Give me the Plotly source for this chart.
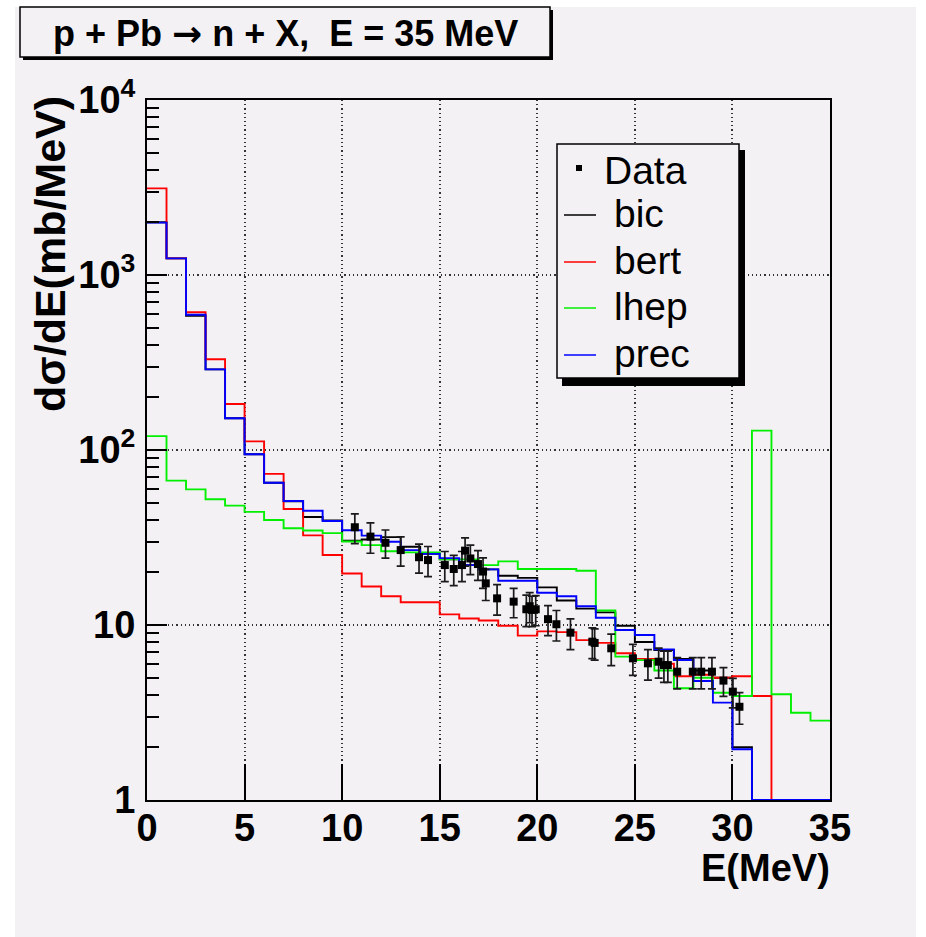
import plotly.graph_objects as go

# --- spectrum data: 1 MeV bins from 0 to 35 MeV -----------------------------
bin_edges = list(range(0, 36))

bic = [2000, 1245, 585, 289, 152, 94.5, 65, 51, 41.4, 39.6,
       30.3, 30.8, 31.8, 28.0, 25.5, 23.7, 22.0, 20.8, 19.1, 18.6,
       16.4, 13.8, 12.4, 11.8, 9.9, 8.0, 7.2, 6.4, 5.5, 5.0,
       2.0, 0, 0, 0, 0]

bert = [3126, 1245, 612, 330, 183, 112, 73, 46, 32.5, 25.1,
        19.7, 16.6, 14.6, 13.5, 13.5, 11.5, 10.9, 10.6, 9.9, 8.7,
        9.2, 9.1, 8.2, 7.9, 6.9, 6.4, 6.0, 5.1, 5.2, 5.0,
        5.1, 3.93, 0, 0, 0]

lhep = [120, 66.8, 59.6, 52.3, 48.1, 44.3, 39.8, 35.7, 34.7, 33.5,
        30.0, 28.6, 26.4, 26.0, 26.0, 23.7, 23.7, 22.0, 23.1, 20.9,
        20.9, 20.9, 20.4, 12.1, 6.6, 6.3, 5.5, 4.35, 5.0, 4.1,
        3.93, 129, 4.02, 3.15, 2.84]

prec = [1991, 1245, 593, 289, 152, 94.5, 65, 51.1, 45.0, 39.3,
        34.8, 32.4, 29.9, 26.8, 25.5, 24.1, 22.0, 20.8, 17.9, 17.9,
        15.3, 14.6, 12.8, 11.0, 9.36, 8.77, 7.26, 6.31, 4.79, 3.6,
        1.95, 0, 0, 0, 0]

# measured neutron spectrum
data_e = [10.65, 11.45, 12.22, 13.0, 13.94, 14.4, 15.26, 15.72, 16.14, 16.3,
          16.57, 16.96, 17.22, 17.36, 17.94, 18.79, 19.44, 19.61, 19.73, 19.92,
          20.55, 20.98, 21.7, 22.82, 22.94, 23.79, 24.9, 25.67, 26.22, 26.49,
          26.69, 27.17, 27.97, 28.4, 28.95, 29.54, 30.02, 30.36]
data_xs = [36.2, 32.0, 29.5, 26.8, 24.4, 23.5, 22.0, 20.9, 22.0, 26.6,
           24.0, 22.3, 20.2, 17.3, 14.2, 13.6, 12.3, 12.8, 12.2, 12.3,
           10.8, 10.1, 9.04, 8.03, 7.9, 7.36, 6.45, 6.04, 6.17, 5.9,
           5.9, 5.41, 5.41, 5.41, 5.41, 4.81, 4.16, 3.41]
data_err = [7.0, 6.3, 5.4, 5.1, 4.6, 4.6, 4.3, 4.1, 4.3, 4.9,
            4.6, 4.3, 4.0, 3.5, 2.8, 2.6, 2.5, 2.5, 2.4, 2.4,
            2.1, 2.0, 1.8, 1.6, 1.6, 1.5, 1.3, 1.2, 1.2, 1.2,
            1.2, 1.1, 1.1, 1.1, 1.1, 0.9, 0.8, 0.7]

x_ticks = [0, 5, 10, 15, 20, 25, 30, 35]
y_ticks = [1, 10, 100, 1000, 10000]
y_tick_text = ["1", "10", "10<sup>2</sup>", "10<sup>3</sup>", "10<sup>4</sup>"]
y_minor = [m * 10 ** d for d in range(4) for m in range(2, 10)]

legend_names = ["bic", "bert", "lhep", "prec"]
legend_colors = ["#000000", "#ff0000", "#00f000", "#0000ff"]

# --- page geometry (pixels) --------------------------------------------------
W, H = 926, 937
L, R, T, B = 147, 830, 100, 800
BG = "#f4f1f5"
Y_FLOOR = 1.0  # empty bins are drawn on the lower frame edge


def px(x):
    return (x - L) / (R - L)


def py(y):
    return (B - y) / (B - T)


def hist_trace(vals, color, name):
    ys = [max(v, Y_FLOOR) for v in vals]
    ys.append(ys[-1])
    return go.Scatter(x=bin_edges, y=ys, mode="lines", name=name,
                      line=dict(color=color, width=1.9, shape="hv"),
                      showlegend=False, hoverinfo="skip")


fig = go.Figure()
for vals, color, name in zip([bic, bert, lhep, prec], legend_colors, legend_names):
    fig.add_trace(hist_trace(vals, color, name))

fig.add_trace(go.Scatter(
    x=data_e, y=data_xs, mode="markers", name="Data", showlegend=False,
    marker=dict(symbol="square", size=8, color="black"),
    error_y=dict(type="data", array=data_err, visible=True,
                 color="#1a1a1a", thickness=1.7, width=4),
))

shapes = []
annotations = []

# canvas panel
shapes.append(dict(type="rect", xref="paper", yref="paper", layer="below",
                   x0=px(15), x1=px(916), y0=py(937), y1=py(7),
                   fillcolor=BG, line=dict(width=0)))

# title box with drop shadow
shapes.append(dict(type="rect", xref="paper", yref="paper",
                   x0=px(23), x1=px(553), y0=py(60), y1=py(10),
                   fillcolor="black", line=dict(width=0)))
shapes.append(dict(type="rect", xref="paper", yref="paper",
                   x0=px(20), x1=px(550), y0=py(57), y1=py(7),
                   fillcolor=BG, line=dict(color="black", width=1.5)))
annotations.append(dict(xref="paper", yref="paper", x=px(285), y=py(34),
                        xanchor="center", yanchor="middle", showarrow=False,
                        text=("p + Pb <span style=\"font-family:'DejaVu Sans'\">\u2192</span>"
                              " n + X,  E = 35 MeV"),
                        font=dict(family="Liberation Sans", size=36,
                                  color="black", weight="bold")))

# legend box with drop shadow
shapes.append(dict(type="rect", xref="paper", yref="paper",
                   x0=px(562), x1=px(745), y0=py(386), y1=py(150),
                   fillcolor="black", line=dict(width=0)))
shapes.append(dict(type="rect", xref="paper", yref="paper",
                   x0=px(557), x1=px(739), y0=py(378), y1=py(144),
                   fillcolor=BG, line=dict(color="black", width=1.5)))

# legend: data marker entry
shapes.append(dict(type="rect", xref="paper", yref="paper",
                   x0=px(576), x1=px(582), y0=py(171), y1=py(165),
                   fillcolor="black", line=dict(width=0)))
annotations.append(dict(xref="paper", yref="paper", x=px(602), y=py(170),
                        xanchor="left", yanchor="middle", showarrow=False,
                        text="Data",
                        font=dict(family="Liberation Sans", size=39, color="black")))

# legend: model entries
entry_y = [215, 262, 308, 355]
for name, color, yy in zip(legend_names, legend_colors, entry_y):
    shapes.append(dict(type="line", xref="paper", yref="paper",
                       x0=px(564), x1=px(596), y0=py(yy), y1=py(yy),
                       line=dict(color=color, width=1.5)))
    annotations.append(dict(xref="paper", yref="paper", x=px(612), y=py(yy - 2),
                            xanchor="left", yanchor="middle", showarrow=False,
                            text=name,
                            font=dict(family="Liberation Sans", size=39, color="black")))

# axis titles
annotations.append(dict(xref="paper", yref="paper", x=px(832), y=py(868),
                        xanchor="right", yanchor="middle", showarrow=False,
                        text="E(MeV)",
                        font=dict(family="Liberation Sans", size=38,
                                  color="black", weight="bold")))
annotations.append(dict(xref="paper", yref="paper", x=px(50), y=py(94),
                        xanchor="center", yanchor="top", showarrow=False,
                        textangle=-90, text="d\u03c3/dE(mb/MeV)",
                        font=dict(family="Liberation Sans", size=43,
                                  color="black", weight="bold")))

tick_font = dict(family="Liberation Sans", size=38, color="black", weight="bold")
grid_dash = "1.2px,3px"

fig.update_layout(
    width=W, height=H,
    margin=dict(l=L, r=W - R, t=T, b=H - B, pad=0),
    paper_bgcolor="white", plot_bgcolor=BG,
    showlegend=False,
    shapes=shapes, annotations=annotations,
    xaxis=dict(range=[0, 35], tickmode="array", tickvals=x_ticks,
               ticks="inside", ticklen=36, tickwidth=1.5, tickcolor="black",
               showline=True, linecolor="black", linewidth=2, mirror=True,
               showgrid=True, gridcolor="#333333", gridwidth=1.5, griddash=grid_dash,
               zeroline=False, tickfont=tick_font, ticklabelstandoff=-7),
    yaxis=dict(type="log", range=[0, 4], tickmode="array",
               tickvals=y_ticks, ticktext=y_tick_text,
               ticks="inside", ticklen=20, tickwidth=1.5, tickcolor="black",
               minor=dict(tickmode="array", tickvals=y_minor, ticks="inside",
                          ticklen=12, tickwidth=1.5, tickcolor="black", showgrid=False),
               showline=True, linecolor="black", linewidth=2, mirror=True,
               showgrid=True, gridcolor="#333333", gridwidth=1.5, griddash=grid_dash,
               zeroline=False, tickfont=tick_font, ticklabelstandoff=2),
)

fig.write_html("out.html")
